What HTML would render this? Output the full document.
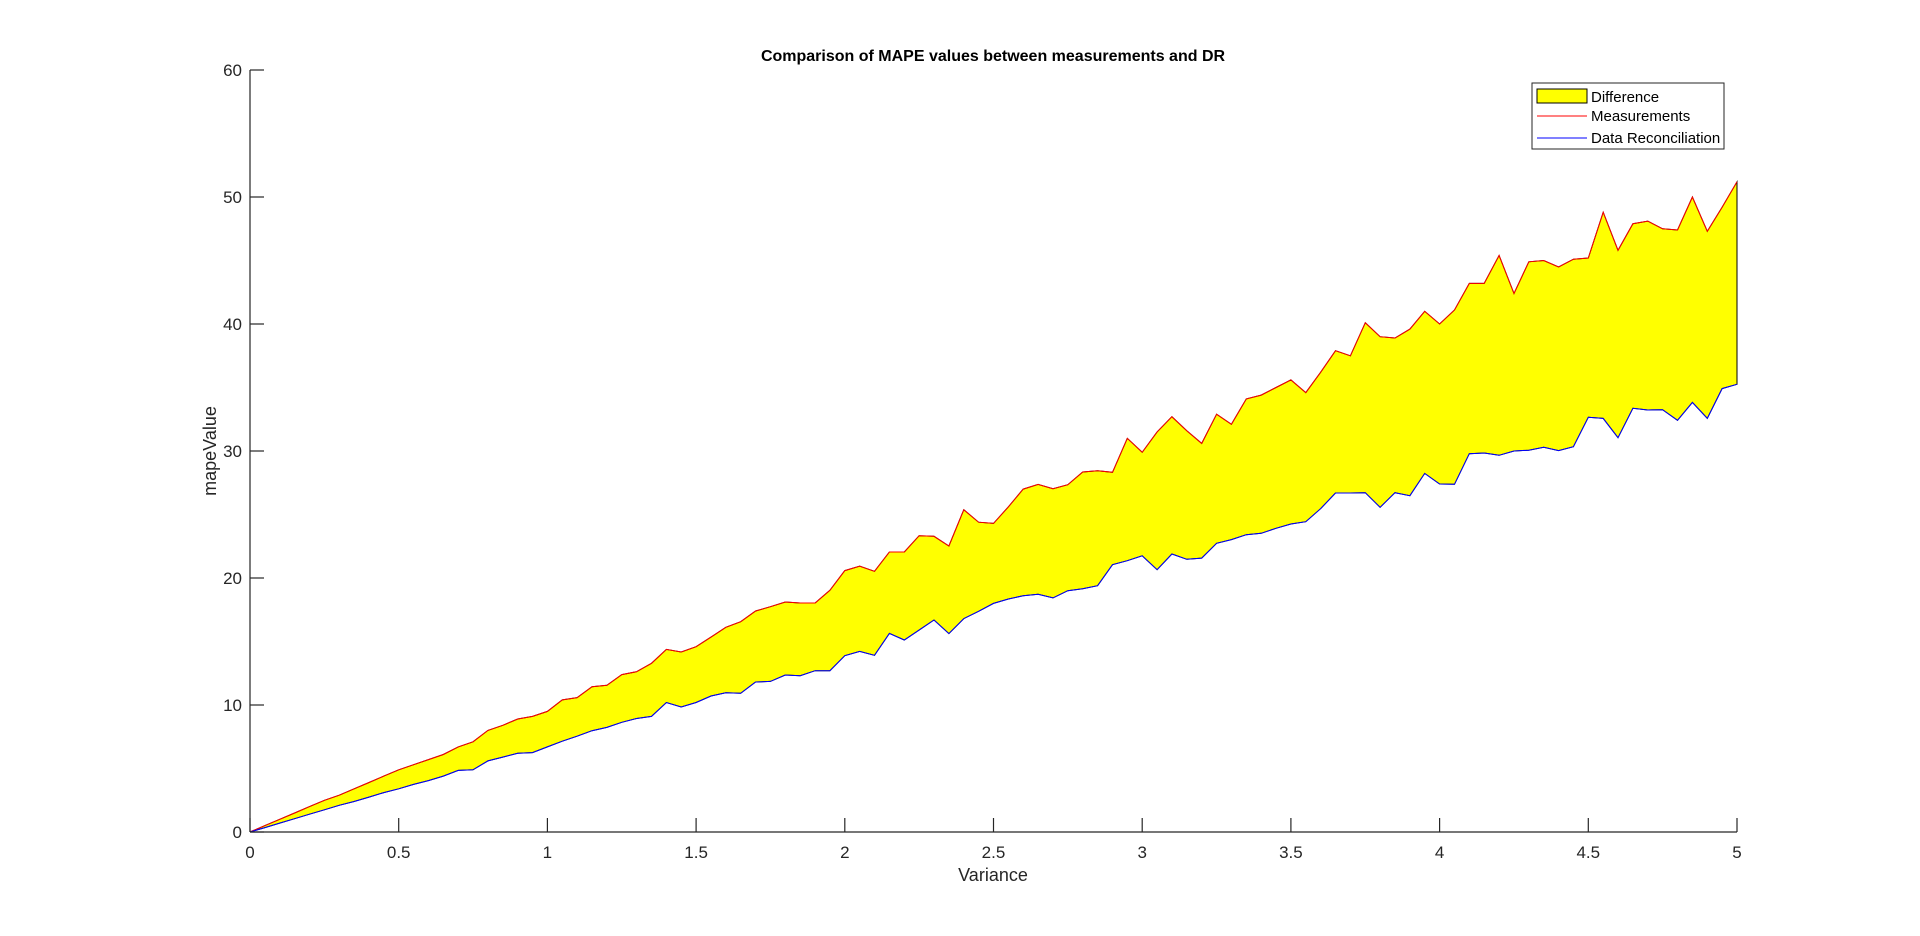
<!DOCTYPE html>
<html><head><meta charset="utf-8"><style>
html,body{margin:0;padding:0;background:#fff;}
svg{display:block;font-family:"Liberation Sans",Arial,sans-serif;}
</style></head><body>
<svg id="chart" width="1920" height="936" viewBox="0 0 1920 936" xmlns="http://www.w3.org/2000/svg">
<rect width="1920" height="936" fill="#fff"/>
<g id="plot"></g>
<text x="993" y="61" text-anchor="middle" font-size="16" font-weight="bold" fill="#000">Comparison of MAPE values between measurements and DR</text>
<text x="993" y="881" text-anchor="middle" font-size="18" fill="#262626">Variance</text>
<text x="0" y="0" transform="translate(216,451) rotate(-90)" text-anchor="middle" font-size="18" fill="#262626">mapeValue</text>
<g>
<rect x="1532" y="83" width="192" height="66" fill="#fff" stroke="#262626" stroke-width="1"/>
<rect x="1537" y="89" width="50" height="14" fill="#ffff00" stroke="#000" stroke-width="1"/>
<text x="1591" y="102" font-size="15" fill="#000">Difference</text>
<line x1="1537" y1="116" x2="1587" y2="116" stroke="#ff0000" stroke-width="1"/>
<text x="1591" y="121" font-size="15" fill="#000">Measurements</text>
<line x1="1537" y1="138" x2="1587" y2="138" stroke="#0000ff" stroke-width="1"/>
<text x="1591" y="143" font-size="15" fill="#000">Data Reconciliation</text>
</g>
</svg>
<script>
const xTicks = [0,0.5,1,1.5,2,2.5,3,3.5,4,4.5,5];
const yTicks = [0,10,20,30,40,50,60];
const measurements = [0,0.5,1.0,1.5,2.0,2.5,2.9,3.4,3.9,4.4,4.9,5.3,5.7,6.1,6.7,7.1,8.0,8.4,8.9,9.1,9.5,10.4,
10.58,11.44,11.55,12.39,12.62,13.28,14.38,14.17,14.59,15.35,16.12,16.56,17.40,17.74,18.11,18.03,18.03,19.03,20.58,20.94,20.53,22.05,22.05,23.33,23.28,22.52,25.38,24.39,24.30,25.61,27.0,27.37,27.03,27.35,28.35,28.45,28.32,31.0,29.9,
31.5,32.7,31.6,30.6,32.9,32.1,34.1,34.4,35.0,35.6,34.6,36.2,37.9,37.5,40.1,39.0,38.9,39.6,41.0,40.0,41.1,43.2,43.2,45.4,42.4,44.9,45.0,44.5,45.1,45.2,48.8,45.8,47.9,48.1,47.5,47.4,50.0,47.3,49.2,51.2];
const reconciliation = [0,0.35,0.7,1.05,1.4,1.75,2.1,2.4,2.75,3.1,3.4,3.75,4.05,4.4,4.85,4.9,5.6,5.9,6.2,6.25,6.7,7.15,
7.54,7.98,8.24,8.64,8.94,9.1,10.2,9.84,10.2,10.71,10.97,10.92,11.81,11.86,12.36,12.31,12.70,12.70,13.88,14.22,13.91,15.64,15.12,15.9,16.69,15.62,16.80,17.38,18.0,18.35,18.61,18.72,18.43,19.0,19.15,19.39,21.05,21.36,21.75,
20.65,21.89,21.47,21.57,22.73,23.02,23.41,23.52,23.91,24.25,24.43,25.46,26.69,26.69,26.72,25.57,26.72,26.48,28.24,27.4,27.38,29.79,29.84,29.66,30.0,30.06,30.29,30.03,30.34,32.65,32.57,31.05,33.36,33.23,33.25,32.42,33.83,32.57,34.91,35.25];
const xMin = 0, xMax = 5, yMin = 0, yMax = 60;

const L = 250, R = 1737, T = 70, B = 832;
function sx(v){ return L + (v - xMin) / (xMax - xMin) * (R - L); }
function sy(v){ return B - (v - yMin) / (yMax - yMin) * (B - T); }
const NS = 'http://www.w3.org/2000/svg';
const g = document.getElementById('plot');
function mk(tag, attrs){ const e = document.createElementNS(NS, tag); for (const k in attrs) e.setAttribute(k, attrs[k]); g.appendChild(e); return e; }
const n = measurements.length;
const xs = measurements.map((_, i) => xMin + i * (xMax - xMin) / (n - 1));
const up = xs.map((x, i) => sx(x).toFixed(1) + ',' + sy(measurements[i]).toFixed(1));
const lo = xs.map((x, i) => sx(x).toFixed(1) + ',' + sy(reconciliation[i]).toFixed(1));
const fill = mk('polygon', {points: up.concat(lo.slice().reverse()).join(' '), fill: '#ffff00', stroke: '#000', 'stroke-width': 1});


const red = mk('polyline', {points: up.join(' '), fill: 'none', stroke: '#ff0000', 'stroke-width': 1});


const blue = mk('polyline', {points: lo.join(' '), fill: 'none', stroke: '#0000ff', 'stroke-width': 1});


// axes
const xa = mk('line', {x1: L, y1: B, x2: R, y2: B, stroke: '#262626', 'stroke-width': 1.2});


const ya = mk('line', {x1: L, y1: B, x2: L, y2: T, stroke: '#262626', 'stroke-width': 1.2});


xTicks.forEach(t => {
  const x = sx(t);
  const tk = mk('line', {x1: x, y1: B, x2: x, y2: B - 14, stroke: '#262626', 'stroke-width': 1.2});
  
  
  const tx = mk('text', {x: x, y: B + 26, 'text-anchor': 'middle', 'font-size': 17, fill: '#262626'});
  tx.textContent = String(t);
  
  
});
yTicks.forEach(t => {
  const y = sy(t);
  const tk = mk('line', {x1: L, y1: y, x2: L + 14, y2: y, stroke: '#262626', 'stroke-width': 1.2});
  
  
  const tx = mk('text', {x: L - 8, y: y + 6, 'text-anchor': 'end', 'font-size': 17, fill: '#262626'});
  tx.textContent = String(t);
  
  
});
</script>
</body></html>
